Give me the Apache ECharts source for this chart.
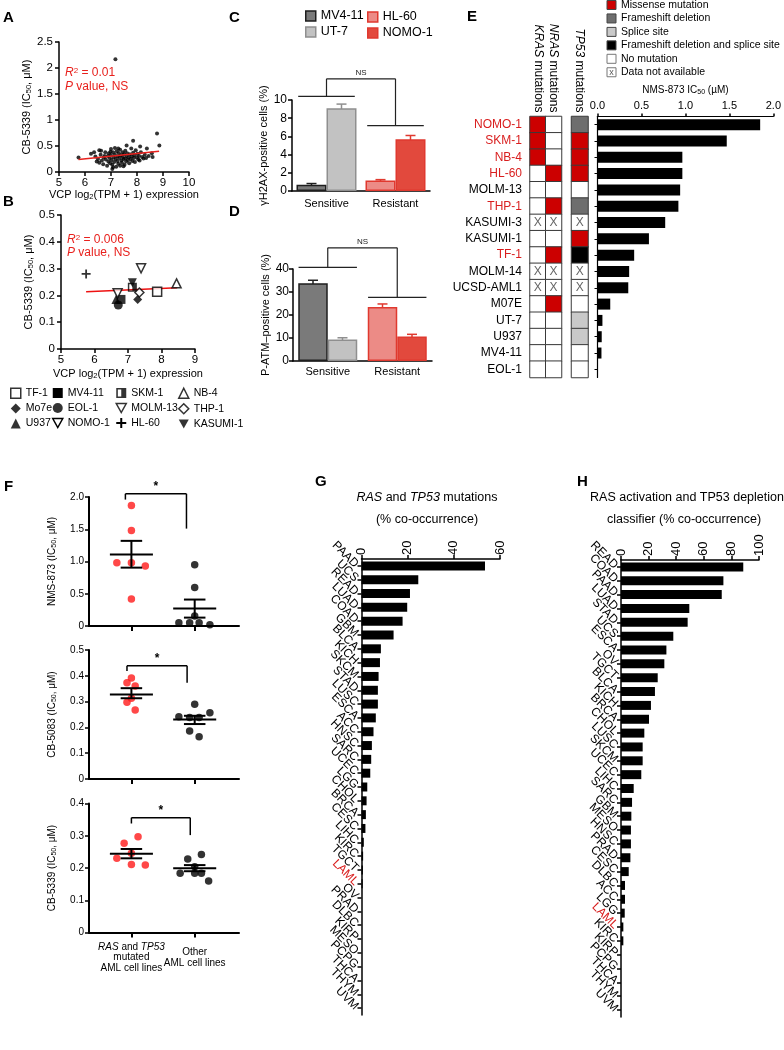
<!DOCTYPE html>
<html><head><meta charset="utf-8">
<script src="https://cdn.jsdelivr.net/npm/echarts@6/dist/echarts.min.js"></script>
<style>html,body{margin:0;padding:0;background:#fff}#c{width:784px;height:1050px}</style>
</head><body><div id="c"></div>
<script>
const FONT = '"Liberation Sans", Arial, Helvetica, sans-serif';

// ---------------- Panel A: VCP expression vs CB-5339 IC50 (all lines)
const aPoints = [
[5.75,0.28],[6.23,0.35],[6.55,0.42],[7.17,2.17],[8.77,0.74],[8.86,0.51],[7.85,0.60],[7.6,0.51],[8.12,0.49],[8.38,0.45],[8.57,0.36],[8.6,0.29],[7.05,0.06],
[6.4,0.30],[6.5,0.25],[6.55,0.18],[6.6,0.33],[6.65,0.22],[6.7,0.15],[6.72,0.28],[6.78,0.38],[6.8,0.24],[6.85,0.12],[6.88,0.31],[6.9,0.20],[6.92,0.36],[6.95,0.27],[6.97,0.17],[7.0,0.44],[7.0,0.32],[7.02,0.23],[7.05,0.14],[7.08,0.38],[7.1,0.28],[7.12,0.19],[7.15,0.46],[7.15,0.33],[7.18,0.25],[7.2,0.10],[7.22,0.40],[7.25,0.30],[7.25,0.21],[7.28,0.16],[7.3,0.36],[7.32,0.27],[7.35,0.43],[7.35,0.12],[7.38,0.32],[7.4,0.22],[7.42,0.18],[7.45,0.38],[7.45,0.29],[7.48,0.25],[7.5,0.34],[7.52,0.14],[7.55,0.41],[7.55,0.26],[7.58,0.20],[7.6,0.31],[7.62,0.36],[7.65,0.23],[7.68,0.28],[7.7,0.17],[7.72,0.34],[7.75,0.25],[7.78,0.45],[7.8,0.30],[7.82,0.21],[7.85,0.37],[7.88,0.27],[7.9,0.32],[7.92,0.19],[7.95,0.42],[8.0,0.28],[8.02,0.35],[8.05,0.24],[8.08,0.31],[8.1,0.22],[8.15,0.38],[8.2,0.29],[8.25,0.26],[8.3,0.33],[8.35,0.27],[8.45,0.31],
[6.35,0.38],[6.45,0.20],[6.62,0.41],[6.75,0.31],[6.98,0.39],[7.08,0.09],[7.28,0.45],[7.48,0.11]
];
const aFit = [[5.75,0.24],[8.85,0.40]];

// ---------------- Panel B: selected AML lines
const bLines = ['TF-1','MV4-11','SKM-1','NB-4','Mo7e','EOL-1','MOLM-13','THP-1','U937','NOMO-1','HL-60','KASUMI-1'];
const bX = [7.87, 6.79, 7.13, 8.45, 7.29, 6.71, 7.39, 7.34, 6.64, 6.69, 5.75, 7.13];
const bY = [0.214, 0.185, 0.230, 0.245, 0.185, 0.164, 0.301, 0.211, 0.185, 0.208, 0.280, 0.247];
const bFit = [[5.75,0.214],[8.47,0.229]];

// ---------------- Panels C/D
const cdGroups = ['Sensitive','Resistant'];
const cdLines = ['MV4-11','UT-7','HL-60','NOMO-1'];
const cdGroupOf = [0,0,1,1];
const cValues = [0.7, 9.1, 1.15, 5.7];
const cErrors = [0.12, 0.45, 0.1, 0.4];
const dValues = [33.8, 9.3, 23.5, 10.7];
const dErrors = [1.3, 0.8, 1.3, 0.9];

// ---------------- Panel E
const eLines = ['NOMO-1','SKM-1','NB-4','HL-60','MOLM-13','THP-1','KASUMI-3','KASUMI-1','TF-1','MOLM-14','UCSD-AML1','M07E','UT-7','U937','MV4-11','EOL-1'];
const eRedLines = ['NOMO-1','SKM-1','NB-4','HL-60','THP-1','TF-1'];
const eRasGenes = ['KRAS','NRAS'];
const eTpGenes = ['TP53'];
// codes: 0 none, 1 missense, 2 frameshift deletion, 3 splice site, 4 frameshift+splice, 5 not available
const eKras = [1,1,1,0,0,0,5,0,0,5,5,0,0,0,0,0];
const eNras = [0,0,0,1,0,1,5,0,1,5,5,1,0,0,0,0];
const eTp53 = [2,1,1,1,0,2,5,1,4,5,5,0,3,3,0,0];
const eMutationTypes = ['No mutation','Missense mutation','Frameshift deletion','Splice site','Frameshift deletion and splice site','Data not available'];
const eLegendOrder = [1,2,3,4,0,5];
const eIC50 = [1.85,1.47,0.965,0.965,0.94,0.92,0.77,0.585,0.417,0.36,0.35,0.145,0.056,0.048,0.045,0.005];

// ---------------- Panel F
const fPanels = ['NMS-873','CB-5083','CB-5339'];
const fMutated = [
  [[1,1.87],[1,1.48],[0.77,0.98],[1,0.98],[1.22,0.93],[1,0.42]],
  [[1,0.391],[0.93,0.373],[1.06,0.36],[1,0.313],[0.93,0.297],[1.06,0.267]],
  [[1.105,0.297],[0.885,0.277],[1,0.246],[0.77,0.23],[1,0.211],[1.22,0.209]]
];
const fOther = [
  [[2,0.95],[2,0.595],[2,0.155],[1.75,0.05],[1.92,0.05],[2.07,0.05],[2.24,0.02]],
  [[2,0.29],[1.75,0.241],[1.92,0.238],[2.07,0.238],[2.24,0.257],[1.92,0.186],[2.07,0.164]],
  [[2.106,0.242],[1.89,0.228],[2,0.204],[1.77,0.184],[2,0.184],[2.106,0.184],[2.22,0.16]]
];
// [x, mean, mean+SEM, mean-SEM]
const fSummary = [
  [[1,1.11,1.32,0.905],[2,0.27,0.41,0.13]],
  [[1,0.328,0.352,0.313],[2,0.231,0.245,0.213]],
  [[1,0.244,0.259,0.23],[2,0.199,0.209,0.19]]
];
const fYMax = [2.0, 0.5, 0.4];
const fYStep = [0.5, 0.1, 0.1];
const fGroupX = [1, 2];
const fGroupLabels = ['{i|RAS} and {i|TP53}\nmutated\nAML cell lines', 'Other\nAML cell lines'];

// ---------------- Panel G
const gCancers = ['PAAD','UCS','READ','LUAD','COAD','GBM','BLCA','KICH','SKCM','STAD','LUSC','ESCA','ACC','HNSC','SARC','UCEC','LGG','CHOL','BRCA','CESC','LIHC','KIRC','TGCT','LAML','OV','PRAD','DLBC','KIRP','MESO','PCPG','THCA','THYM','UVM'];
const gValues = [53.5,24.6,21.0,19.8,17.8,13.9,8.4,8.0,7.4,7.1,7.1,6.2,5.2,4.5,4.2,3.8,2.5,2.2,1.9,1.7,1.0,0.7,0.6,0.5,0,0,0,0,0,0,0,0,0];
// ---------------- Panel H
const hCancers = ['READ','COAD','PAAD','LUAD','STAD','UCS','ESCA','OV','TGCT','BLCA','KICH','BRCA','CHOL','LUSC','SKCM','UCEC','LIHC','SARC','GBM','MESO','HNSC','PRAD','CESC','DLBC','ACC','LGG','LAML','KIRC','KIRP','PCPG','THCA','THYM','UVM'];
const hValues = [88.6,74.2,73.0,49.5,48.3,37.9,32.9,31.4,26.6,24.6,21.7,20.3,16.9,15.7,15.7,14.7,9.2,8.0,7.5,7.2,7.2,6.8,5.6,2.9,2.9,2.7,1.7,1.7,0,0,0,0,0];

// ================= styles =================
const RED = '#e8211d';
const LABEL_RED = '#d91e1e';
const cdFill = ['#7a7a7a','#c2c2c2','#ec8b86','#e2493d'];
const cdBorder = ['#1e1e1e','#8f8f8f','#e0392f','#e0392f'];
const eColors = ['#ffffff','#cc0000','#6e6e6e','#c9c9c9','#000000','#ffffff'];
const DOWN = 'path://M0,0L10,0L5,9Z';
const bSymbols = {
  'TF-1':{symbol:'rect', open:true},
  'MV4-11':{symbol:'rect'},
  'SKM-1':{symbol:'path://M0,0L10,0L10,10L0,10Z M1.6,1.6L1.6,8.4L5,8.4L5,1.6Z'},
  'NB-4':{symbol:'triangle', open:true},
  'Mo7e':{symbol:'diamond'},
  'EOL-1':{symbol:'circle'},
  'MOLM-13':{symbol:DOWN, open:true},
  'THP-1':{symbol:'diamond', open:true},
  'U937':{symbol:'triangle'},
  'NOMO-1':{symbol:DOWN, open:true},
  'HL-60':{symbol:'path://M4,0H6V4H10V6H6V10H4V6H0V4H4Z'},
  'KASUMI-1':{symbol:DOWN}
};
function bItemStyle(n){ return bSymbols[n].open ? {color:'#fff', borderColor:'#000', borderWidth:1.5} : {color:'#000', borderWidth:0}; }

const sub = {fontSize:7.5, verticalAlign:'bottom', fontFamily:FONT, padding:[4,0,0,0]};
const ital = {fontStyle:'italic', fontFamily:FONT};

function axLine(w){ return {show:true, onZero:false, lineStyle:{color:'#000', width:w||1.5}}; }
function axTick(len){ return {show:true, length:len||4, lineStyle:{color:'#000', width:1.5}}; }
function lbl(fs, extra){ return Object.assign({color:'#000', fontSize:fs, fontFamily:FONT}, extra||{}); }

const grids = [
  {left:59, top:42, width:130, height:130},     //0 A
  {left:61, top:215, width:134, height:134},    //1 B
  {left:292, top:100, width:138, height:91},    //2 C
  {left:293, top:269, width:139, height:92},    //3 D
  {left:530, top:116.5, width:31.5, height:261},//4 E heat RAS
  {left:571.5, top:116.5, width:16.5, height:261},//5 E heat TP53
  {left:597.5, top:116.5, width:179, height:261},//6 E bars
  {left:89, top:497, width:150, height:129},    //7 F1
  {left:89, top:650, width:150, height:129},    //8 F2
  {left:89, top:803.5, width:150, height:129},  //9 F3
  {left:361.5, top:559, width:138.5, height:456},//10 G
  {left:621, top:560, width:138, height:457}    //11 H
];

const xAxes = [], yAxes = [], series = [];
// A
xAxes.push({gridIndex:0, type:'value', min:5, max:10, interval:1, axisLine:axLine(), axisTick:axTick(), splitLine:{show:false},
  axisLabel:lbl(11.5,{margin:5}), name:'VCP log{s|2}(TPM + 1) expression', nameLocation:'middle', nameGap:17,
  nameTextStyle:lbl(11,{rich:{s:sub}})});
yAxes.push({gridIndex:0, type:'value', min:0, max:2.5, interval:0.5, axisLine:axLine(), axisTick:axTick(), splitLine:{show:false},
  axisLabel:lbl(11.5,{margin:6}), name:'CB-5339 (IC{s|50}, μM)', nameLocation:'middle', nameGap:24, nameRotate:90,
  nameTextStyle:lbl(11,{rich:{s:sub}})});
series.push({type:'scatter', xAxisIndex:0, yAxisIndex:0, data:aPoints, symbolSize:4, itemStyle:{color:'#000'}, silent:true});
series.push({type:'line', xAxisIndex:0, yAxisIndex:0, data:aFit, symbol:'none', lineStyle:{color:RED, width:1.5}, silent:true});
// B
xAxes.push({gridIndex:1, type:'value', min:5, max:9, interval:1, axisLine:axLine(), axisTick:axTick(), splitLine:{show:false},
  axisLabel:lbl(11.5,{margin:5}), name:'VCP log{s|2}(TPM + 1) expression', nameLocation:'middle', nameGap:19,
  nameTextStyle:lbl(11,{rich:{s:sub}})});
yAxes.push({gridIndex:1, type:'value', min:0, max:0.5, interval:0.1, axisLine:axLine(), axisTick:axTick(), splitLine:{show:false},
  axisLabel:lbl(11.5,{margin:6}), name:'CB-5339 (IC{s|50}, μM)', nameLocation:'middle', nameGap:23, nameRotate:90,
  nameTextStyle:lbl(11,{rich:{s:sub}})});
// C / D
[2,3].forEach(gi=>{
  const isC = gi===2;
  xAxes.push({gridIndex:gi, type:'category', data:cdGroups, axisLine:axLine(), axisTick:{show:false}, axisLabel:lbl(11,{margin:isC?7:5})});
  yAxes.push({gridIndex:gi, type:'value', min:0, max:isC?10:40, interval:isC?2:10, axisLine:axLine(), axisTick:axTick(),
    splitLine:{show:false}, axisLabel:lbl(12,{margin:isC?5:4}),
    name:isC?'γH2AX-positive cells (%)':'P-ATM–positive cells (%)', nameLocation:'middle', nameGap:isC?15:20, nameRotate:90,
    nameTextStyle:lbl(11)});
});
// E heat RAS
xAxes.push({gridIndex:4, type:'category', data:eRasGenes, position:'top', axisLine:{show:false}, axisTick:{show:false}, splitLine:{show:false},
  axisLabel:lbl(12,{rotate:90, margin:4, interval:0, formatter:v=>'{i|'+v+'} mutations', rich:{i:Object.assign({fontSize:12},ital)}})});
yAxes.push({gridIndex:4, type:'category', inverse:true, axisLine:{show:false}, axisTick:{show:false}, splitLine:{show:false},
  data:eLines.map(n=>({value:n, textStyle:{color: eRedLines.includes(n)?LABEL_RED:'#000'}})),
  axisLabel:lbl(12,{margin:8, interval:0})});
// E heat TP53
xAxes.push({gridIndex:5, type:'category', data:eTpGenes, position:'top', axisLine:{show:false}, axisTick:{show:false}, splitLine:{show:false},
  axisLabel:lbl(12,{rotate:90, margin:4, interval:0, formatter:v=>'{i|'+v+'} mutations', rich:{i:Object.assign({fontSize:12},ital)}})});
yAxes.push({gridIndex:5, type:'category', inverse:true, data:eLines, axisLine:{show:false}, axisTick:{show:false}, axisLabel:{show:false}, splitLine:{show:false}});
// E bars
xAxes.push({gridIndex:6, type:'value', position:'top', min:0, max:2, interval:0.5, axisLine:axLine(1.2), axisTick:axTick(3), splitLine:{show:false},
  axisLabel:lbl(11,{margin:5, formatter:v=>v.toFixed(1)}), name:'NMS-873 IC{s|50} (µM)', nameLocation:'middle', nameGap:21,
  nameTextStyle:lbl(10,{rich:{s:Object.assign({},sub,{fontSize:7})}})});
yAxes.push({gridIndex:6, type:'category', inverse:true, data:eLines, axisLine:axLine(1.2), axisTick:{show:true, alignWithLabel:true, length:3, lineStyle:{color:'#000'}},
  axisLabel:{show:false}, splitLine:{show:false}});
// F
[7,8,9].forEach((gi,k)=>{
  xAxes.push({gridIndex:gi, type:'value', min:0.33, max:2.7, axisLine:axLine(2), splitLine:{show:false},
    axisTick:{show:true, customValues:fGroupX, length:5, lineStyle:{color:'#000', width:2}},
    axisLabel:{show:false}});
  yAxes.push({gridIndex:gi, type:'value', min:0, max:fYMax[k], interval:fYStep[k], axisLine:axLine(2), axisTick:axTick(4), splitLine:{show:false},
    axisLabel:lbl(10,{margin:5, formatter:v=> v===0?'0':v.toFixed(1)}),
    name:fPanels[k]+' (IC{s|50}, μM)', nameLocation:'middle', nameGap:31, nameRotate:90,
    nameTextStyle:lbl(10,{rich:{s:Object.assign({},sub,{fontSize:7})}})});
});
// G / H
[[10,60,gCancers],[11,100,hCancers]].forEach(([gi,mx,cats])=>{
  xAxes.push({gridIndex:gi, type:'value', position:'top', min:0, max:mx, interval:20, axisLine:axLine(1.5), axisTick:axTick(4), splitLine:{show:false},
    axisLabel:lbl(13,{rotate:-90, margin:4})});
  yAxes.push({gridIndex:gi, type:'category', inverse:true, axisLine:axLine(1.5),
    axisTick:{show:true, alignWithLabel:true, length:4, lineStyle:{color:'#000', width:1.5}}, splitLine:{show:false},
    data:cats.map(n=>({value:n, textStyle:{color: n==='LAML'?LABEL_RED:'#000'}})),
    axisLabel:lbl(12,{rotate:-45, margin:5, interval:0})});
});

// ---- series C / D bars
[[2,cValues,cErrors,'c'],[3,dValues,dErrors,'d']].forEach(([gi,vals,errs,key])=>{
  cdLines.forEach((name,i)=>{
    series.push({type:'bar', name, xAxisIndex:gi, yAxisIndex:gi, stack:key+(i%2), barWidth:gi===2?30:29.5, barGap:'0%',
      data:cdGroups.map((g,j)=> j===cdGroupOf[i]?vals[i]:'-'),
      itemStyle:{color:cdFill[i], borderColor:cdBorder[i], borderWidth:1.5}, silent:true});
  });
  const bw = gi===2?30:29.5;
  series.push({type:'custom', xAxisIndex:gi, yAxisIndex:gi, silent:true,
    data:cdLines.map((n,i)=>[cdGroupOf[i], vals[i], errs[i], i%2]),
    encode:{x:0,y:1},
    renderItem:(p,api)=>{
      const g=api.value(0), v=api.value(1), e=api.value(2), slot=api.value(3);
      const dx = slot===0 ? -bw/2 : bw/2;
      const top=api.coord([g,v+e]), bot=api.coord([g,v-e]);
      const x=top[0]+dx, col=cdBorder[p.dataIndex];
      const st={stroke:col, lineWidth:1.5};
      return {type:'group', children:[
        {type:'line', shape:{x1:x,y1:top[1],x2:x,y2:bot[1]}, style:st},
        {type:'line', shape:{x1:x-5,y1:top[1],x2:x+5,y2:top[1]}, style:st},
        {type:'line', shape:{x1:x-5,y1:bot[1],x2:x+5,y2:bot[1]}, style:st}]};
    }});
});

// ---- B scatter
bLines.forEach((n,i)=>{
  series.push({type:'scatter', name:n, xAxisIndex:1, yAxisIndex:1, data:[[bX[i],bY[i]]], symbol:bSymbols[n].symbol,
    symbolSize:9, itemStyle:bItemStyle(n), silent:true});
});
series.push({type:'line', xAxisIndex:1, yAxisIndex:1, data:bFit, symbol:'none', lineStyle:{color:'#ee1111', width:1.5}, silent:true, z:1});

// ---- E heatmaps
const heatStart = series.length;
series.push({type:'heatmap', xAxisIndex:4, yAxisIndex:4,
  data:eLines.flatMap((n,r)=>[[0,r,eKras[r]],[1,r,eNras[r]]]),
  itemStyle:{borderColor:'#3a3a3a', borderWidth:1}, emphasis:{disabled:true},
  label:{show:true, formatter:p=>p.value[2]===5?'X':'', color:'#666', fontSize:12, fontFamily:FONT}});
series.push({type:'heatmap', xAxisIndex:5, yAxisIndex:5,
  data:eLines.map((n,r)=>[0,r,eTp53[r]]),
  itemStyle:{borderColor:'#3a3a3a', borderWidth:1}, emphasis:{disabled:true},
  label:{show:true, formatter:p=>p.value[2]===5?'X':'', color:'#666', fontSize:12, fontFamily:FONT}});
series.push({type:'bar', xAxisIndex:6, yAxisIndex:6, data:eIC50, barWidth:11, itemStyle:{color:'#000'}, silent:true});

// ---- F
[7,8,9].forEach((gi,k)=>{
  series.push({type:'scatter', xAxisIndex:gi, yAxisIndex:gi, data:fMutated[k], symbolSize:7.5, itemStyle:{color:'#ff1a1a'}, silent:true});
  series.push({type:'scatter', xAxisIndex:gi, yAxisIndex:gi, data:fOther[k], symbolSize:7.5, itemStyle:{color:'#000'}, silent:true});
  series.push({type:'custom', xAxisIndex:gi, yAxisIndex:gi, data:fSummary[k], encode:{x:0,y:[1,2,3]}, silent:true, z:5,
    renderItem:(p,api)=>{
      const x=api.value(0), m=api.value(1), hi=api.value(2), lo=api.value(3);
      const a=api.coord([x-0.34,m]), b=api.coord([x+0.34,m]);
      const t=api.coord([x,hi]), bt=api.coord([x,lo]);
      const c1=api.coord([x-0.17,hi]), c2=api.coord([x+0.17,hi]);
      const d1=api.coord([x-0.17,lo]), d2=api.coord([x+0.17,lo]);
      const st={stroke:'#000', lineWidth:2};
      return {type:'group', children:[
        {type:'line', shape:{x1:a[0],y1:a[1],x2:b[0],y2:b[1]}, style:st},
        {type:'line', shape:{x1:t[0],y1:t[1],x2:bt[0],y2:bt[1]}, style:st},
        {type:'line', shape:{x1:c1[0],y1:c1[1],x2:c2[0],y2:c2[1]}, style:st},
        {type:'line', shape:{x1:d1[0],y1:d1[1],x2:d2[0],y2:d2[1]}, style:st}]};
    }});
});
// ---- G/H bars
series.push({type:'bar', xAxisIndex:10, yAxisIndex:10, data:gValues, barWidth:9, itemStyle:{color:'#000'}, silent:true});
series.push({type:'bar', xAxisIndex:11, yAxisIndex:11, data:hValues, barWidth:9, itemStyle:{color:'#000'}, silent:true});

// ---- legends
const legTxt = lbl(10.5);
function bLegendItem(n){ return {name:n, icon:bSymbols[n].symbol, itemStyle:bItemStyle(n)}; }
function cLegendItem(n){ const i=cdLines.indexOf(n); return {name:n, icon:'rect', itemStyle:{color:cdFill[i], borderColor:cdBorder[i], borderWidth:1.5}}; }
const legends = [
  {left:305, top:9.5, orient:'vertical', itemWidth:10, itemHeight:10, itemGap:3, padding:0, selectedMode:false, textStyle:lbl(12.5), data:['MV4-11','UT-7'].map(cLegendItem)},
  {left:367, top:10.5, orient:'vertical', itemWidth:10, itemHeight:10, itemGap:3, padding:0, selectedMode:false, textStyle:lbl(12.5), data:['HL-60','NOMO-1'].map(cLegendItem)}
];
[[10,[0,4,8]],[52,[1,5,9]],[115.5,[2,6,10]],[178,[3,7,11]]].forEach(([left,idx])=>{
  legends.push({left, top:387.5, orient:'vertical', itemWidth:10, itemHeight:10, itemGap:4, padding:0, selectedMode:false,
    textStyle:legTxt, data:idx.map(i=>bLegendItem(bLines[i]))});
});

const option = {
  animation:false, backgroundColor:'#fff', textStyle:{fontFamily:FONT},
  grid:grids, xAxis:xAxes, yAxis:yAxes, series, legend:legends,
  visualMap:[{type:'piecewise', show:false, seriesIndex:[heatStart, heatStart+1], dimension:2,
    pieces:eColors.map((c,i)=>({value:i, color:c}))}]
};
const chart = echarts.init(document.getElementById('c'));
chart.setOption(option);

// ---------------- annotations (computed from axes)
const G = [];
const P = (gi,x,y)=>chart.convertToPixel({gridIndex:gi},[x,y]);
function line(x1,y1,x2,y2,w,col){ G.push({type:'line', shape:{x1,y1,x2,y2}, style:{stroke:col||'#000', lineWidth:w||1.2}, silent:true}); }
function text(x,y,t,font,opt){ G.push({type:'text', x, y, silent:true, style:Object.assign({text:t, font, fill:'#000', align:'left', verticalAlign:'middle'}, opt||{})}); }

// panel letters
const letterFont = 'bold 15px '+FONT;
[['A',3,18],['B',3,202],['C',229,18],['D',229,212],['E',467,17],['F',4,487],['G',315,482],['H',577,482]].forEach(([t,x,y])=>text(x,y,t,letterFont));

// R² annotations
const rRich = {i:Object.assign({fontSize:12, fill:RED},ital), s:{fontSize:8, fill:RED, verticalAlign:'top', fontFamily:FONT}};
text(65,73,'{i|R}{s|2} = 0.01','12px '+FONT,{fill:RED, rich:rRich});
text(65,87,'{i|P} value, NS','12px '+FONT,{fill:RED, rich:rRich});
text(67,239.5,'{i|R}{s|2} = 0.006','12px '+FONT,{fill:RED, rich:rRich});
text(67,252.5,'{i|P} value, NS','12px '+FONT,{fill:RED, rich:rRich});

// C / D NS brackets: [grid, leftLevel, rightLevel, topLevel, halfWidth(band)]
[[2,10.4,7.18,12.33,0.41],[3,40.7,27.7,49.2,0.42]].forEach(([gi,yl,yr,yt,hw])=>{
  const c0=P(gi,0,0)[0], c1=P(gi,1,0)[0], band=c1-c0;
  const pl=P(gi,0,yl)[1], pr=P(gi,0,yr)[1], pt=P(gi,0,yt)[1];
  line(c0-hw*band,pl,c0+hw*band,pl,1.2,'#222');
  line(c0,pl,c0,pt,1.2,'#222'); line(c0,pt,c1,pt,1.2,'#222'); line(c1,pt,c1,pr,1.2,'#222');
  line(c1-hw*band,pr,c1+hw*band,pr,1.2,'#222');
  text((c0+c1)/2,pt-6,'NS','8px '+FONT,{align:'center', fill:'#222'});
});

// F significance brackets: [x1, x2, top, leftEnd, rightEnd]
const fBrackets = [[0.905,1.87,2.05,1.96,1.51],[0.93,1.88,0.439,0.419,0.373],[1.0,1.93,0.356,0.338,0.302]];
[7,8,9].forEach((gi,k)=>{
  const [x1,x2,t,y1,y2]=fBrackets[k];
  const a=P(gi,x1,y1), b=P(gi,x1,t), c=P(gi,x2,t), d=P(gi,x2,y2);
  line(a[0],a[1],b[0],b[1],1.5); line(b[0],b[1],c[0],c[1],1.5); line(c[0],c[1],d[0],d[1],1.5);
  text((b[0]+c[0])/2,b[1]-7,'*','bold 12px '+FONT,{align:'center'});
});
// F group labels under the bottom panel, placed at the group positions on its x axis
fGroupX.forEach((gx,k)=>{
  const p = P(9,gx,0);
  text(p[0], p[1]+25, fGroupLabels[k], '10px '+FONT, {align:'center', lineHeight:10.5,
    rich:{i:Object.assign({fontSize:10, lineHeight:10.5},ital)}});
});

// E legend
eLegendOrder.forEach((ci,k)=>{
  const y = 5 + k*13.45;
  G.push({type:'rect', shape:{x:607,y:y-4.5,width:9,height:9}, silent:true,
    style:{fill:eColors[ci], stroke: ci===5||ci===0?'#777':'#444', lineWidth:1}});
  if(ci===5) text(611.5,y+0.5,'x','9px '+FONT,{align:'center', fill:'#555'});
  text(621,y,eMutationTypes[ci],'10.5px '+FONT);
});

// G / H titles
const tRich = {i:Object.assign({fontSize:12.5},ital)};
text(427,498,'{i|RAS} and {i|TP53} mutations','12.5px '+FONT,{align:'center', rich:tRich});
text(427,520,'(% co-occurrence)','12.5px '+FONT,{align:'center'});
text(687,498,'RAS activation and TP53 depletion','12.5px '+FONT,{align:'center'});
text(684,520,'classifier (% co-occurrence)','12.5px '+FONT,{align:'center'});

chart.setOption({graphic:{elements:G}});
</script></body></html>
